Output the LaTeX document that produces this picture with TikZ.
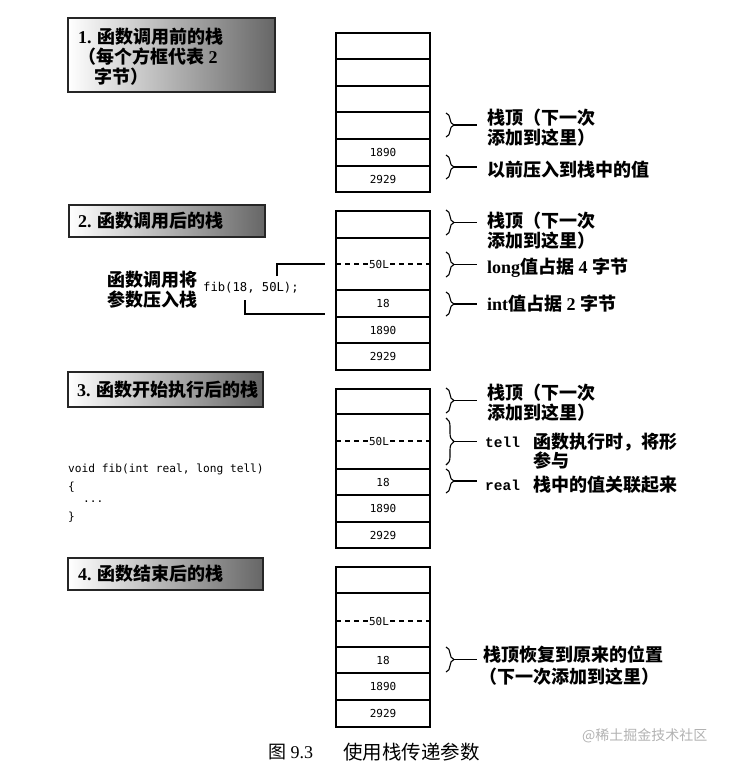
\documentclass[tikz,border=0pt]{standalone}
\usepackage{fontspec}
\setmainfont{Liberation Serif}
\newfontfamily\cjk{Noto Sans CJK SC}
\newfontfamily\codefont{DejaVu Sans Mono}
\newfontfamily\twfont{Liberation Mono}
\usetikzlibrary{decorations.pathreplacing}
\tikzset{
  cell/.style={draw=black, line width=1.3pt},
  thickcell/.style={draw=black, line width=2.2pt},
  dline/.style={draw=black, line width=1.1pt, dash pattern=on 5pt off 4pt},
  titlebox/.style={draw=black!85, line width=1.3pt, left color=white, right color=black!60},
  lbl/.style={anchor=west, inner sep=0pt, align=left, font=\fontsize{18}{20}\selectfont\bfseries},
  num/.style={font=\codefont\fontsize{11}{13}\selectfont, inner sep=1.5pt, fill=white},
  code/.style={anchor=west, inner sep=0pt, font=\codefont\fontsize{11.2}{13}\selectfont},
  brc/.style={decorate, decoration={brace, amplitude=8pt}, line width=1.1pt},
  link/.style={line width=1.1pt}
}
\newcommand\bracelink[3]{%
  \draw[brc] (446,#1) -- (446,#2);
  \coordinate (#3a) at (454,{(#1+#2)/2});
  \coordinate (#3b) at (477,{(#1+#2)/2});
  \draw[link] (#3a) -- (#3b);}
\begin{document}
\begin{tikzpicture}[x=1pt,y=-1pt]
\useasboundingbox (0,0) rectangle (729,764);

% ---------- Title boxes ----------
\draw[titlebox] (68,18) rectangle (275,92);
\node[lbl] (t1a) at (78,37) {1. {\cjk 函数调用前的栈}};
\node[lbl] (t1b) at (78,57) {{\cjk （每个方框代表} 2};
\node[lbl] (t1c) at (94,77) {{\cjk 字节）}};

\draw[titlebox] (69,205) rectangle (265,237);
\node[lbl] (t2) at (78,221) {2. {\cjk 函数调用后的栈}};

\draw[titlebox] (68,372) rectangle (263,407);
\node[lbl] (t3) at (77,390) {3. {\cjk 函数开始执行后的栈}};

\draw[titlebox] (68,558) rectangle (263,590);
\node[lbl] (t4) at (78,574) {4. {\cjk 函数结束后的栈}};

% ---------- Stack 1 ----------
\draw[cell] (336,33) rectangle (430,192);
\foreach \y in {59,86,112,166} \draw[cell] (336,\y) -- (430,\y);
\draw[thickcell] (336,139) -- (430,139);
\node[num] (s1a) at (383,152.5) {1890};
\node[num] (s1b) at (383,179) {2929};

\bracelink{113}{137}{bA}
\node[lbl] (lA) at (487,128) {{\cjk 栈顶（下一次}\\{\cjk 添加到这里）}};
\bracelink{155}{179}{bB}
\node[lbl] (lB) at (487,170) {{\cjk 以前压入到栈中的值}};

% ---------- Stack 2 ----------
\draw[cell] (336,211) rectangle (430,370);
\foreach \y in {238,290,317,343} \draw[cell] (336,\y) -- (430,\y);
\draw[dline] (336,264) -- (430,264);
\node[num] (s2l) at (379,264) {50L};
\node[num] (s2a) at (383,303.5) {18};
\node[num] (s2b) at (383,330) {1890};
\node[num] (s2c) at (383,356.5) {2929};

\bracelink{210}{235}{bC}
\node[lbl] (lC) at (487,231) {{\cjk 栈顶（下一次}\\{\cjk 添加到这里）}};
\bracelink{252}{277}{bD}
\node[lbl] (lD) at (487,268) {long{\cjk 值占据} 4 {\cjk 字节}};
\bracelink{292}{316}{bE}
\node[lbl] (lE) at (487,304) {int{\cjk 值占据} 2 {\cjk 字节}};

\node[lbl] (call) at (107,290) {{\cjk 函数调用将}\\{\cjk 参数压入栈}};
\node[code, font=\codefont\fontsize{12.2}{14}\selectfont] (fib) at (203,288) {fib(18, 50L);};
\coordinate (fu1) at (277,276);
\coordinate (fu2) at (277,264);
\coordinate (fu3) at (325,264);
\draw[link] (fu1) -- (fu2) -- (fu3);
\coordinate (fd1) at (245,300);
\coordinate (fd2) at (245,314);
\coordinate (fd3) at (325,314);
\draw[link] (fd1) -- (fd2) -- (fd3);

% ---------- Stack 3 ----------
\draw[cell] (336,389) rectangle (430,548);
\foreach \y in {414,469,522} \draw[cell] (336,\y) -- (430,\y);
\draw[thickcell] (336,495) -- (430,495);
\draw[dline] (336,441) -- (430,441);
\node[num] (s3l) at (379,441) {50L};
\node[num] (s3a) at (383,482) {18};
\node[num] (s3b) at (383,508.5) {1890};
\node[num] (s3c) at (383,535) {2929};

\bracelink{388}{413}{bF}
\node[lbl] (lF) at (487,403) {{\cjk 栈顶（下一次}\\{\cjk 添加到这里）}};
\bracelink{418}{465}{bG}
\node[lbl, font=\twfont\fontsize{14.5}{16}\selectfont\bfseries] (tell) at (485,442) {tell};
\node[lbl] (lG1) at (533,442) {{\cjk 函数执行时，将形}};
\node[lbl] (lG2) at (533,461) {{\cjk 参与}};
\bracelink{469}{493}{bH}
\node[lbl, font=\twfont\fontsize{14.5}{16}\selectfont\bfseries] (real) at (485,485) {real};
\node[lbl] (lH) at (533,485) {{\cjk 栈中的值关联起来}};

\node[code] (c1) at (68,469) {void fib(int real, long tell)};
\node[code] (c2) at (68,487) {\{};
\node[code] (c3) at (83,502) {...};
\node[code] (c4) at (68,517) {\}};

% ---------- Stack 4 ----------
\draw[cell] (336,567) rectangle (430,727);
\foreach \y in {593,647,700} \draw[cell] (336,\y) -- (430,\y);
\draw[thickcell] (336,673) -- (430,673);
\draw[dline] (336,621) -- (430,621);
\node[num] (s4l) at (379,621) {50L};
\node[num] (s4a) at (383,660) {18};
\node[num] (s4b) at (383,686.5) {1890};
\node[num] (s4c) at (383,713.5) {2929};

\bracelink{647}{672}{bI}
\node[lbl] (lI1) at (483,655) {{\cjk 栈顶恢复到原来的位置}};
\node[lbl] (lI2) at (479,677) {{\cjk （下一次添加到这里）}};

% ---------- Caption ----------
\node[anchor=west, inner sep=0pt, font=\fontsize{18}{20}\selectfont] (cap1) at (268,752) {{\cjk 图} 9.3};
\node[anchor=west, inner sep=0pt, font=\cjk\fontsize{19.5}{20}\selectfont] (cap2) at (343,752) {使用栈传递参数};
\node[anchor=west, inner sep=0pt, text=black!30, font=\cjk\fontsize{14}{16}\selectfont] (wm) at (582,736) {@稀土掘金技术社区};
\end{tikzpicture}
\end{document}
